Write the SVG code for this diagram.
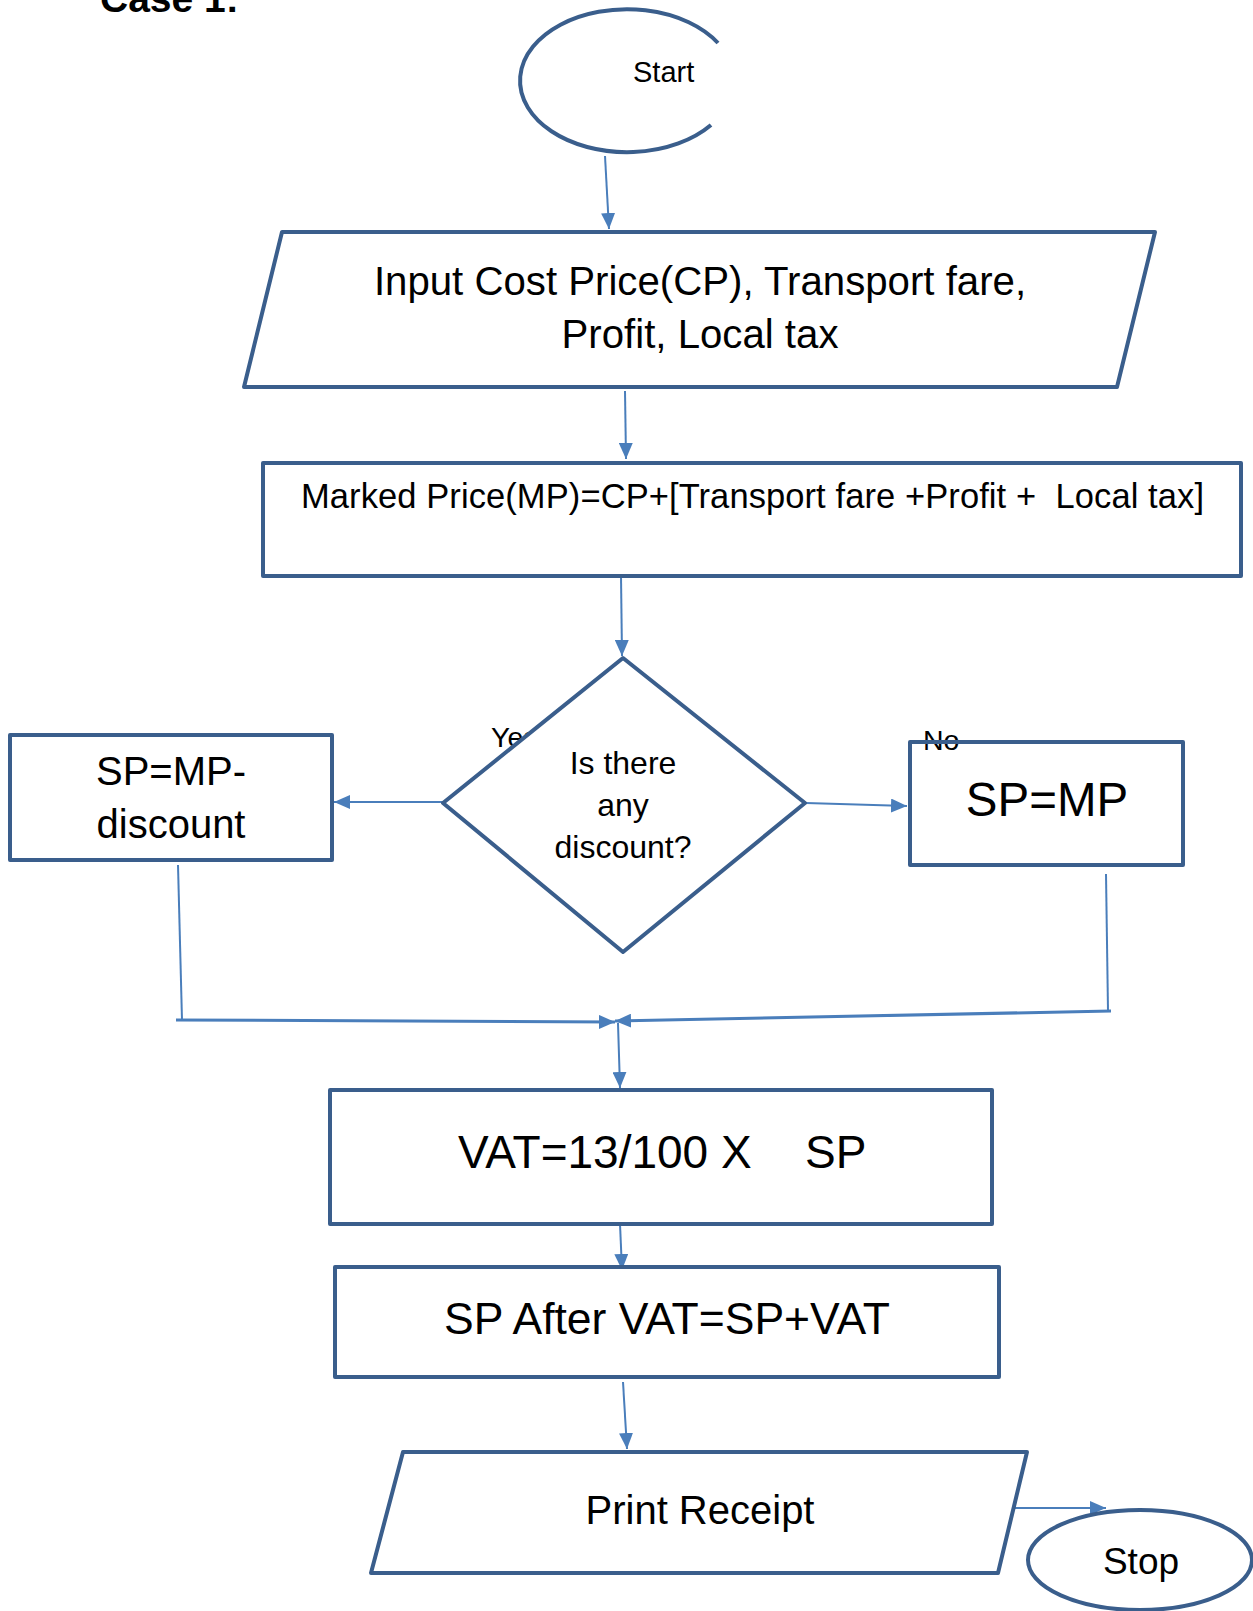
<svg xmlns="http://www.w3.org/2000/svg" width="1253" height="1611" viewBox="0 0 1253 1611">
  <style>
    .shape { fill: #ffffff; stroke: #3A5E8C; stroke-width: 4; stroke-linejoin: round; }
    .open { fill: none; stroke: #3A5E8C; stroke-width: 4; stroke-linejoin: round; }
    .conn { fill: none; stroke: #4A7EBB; stroke-width: 2; }
    .thick { stroke-width: 3; }
    text { font-family: "Liberation Sans", Arial, sans-serif; fill: #000000; }
    .mid { text-anchor: middle; }
  </style>
  <defs>
    <marker id="arrow" markerUnits="userSpaceOnUse" markerWidth="16" markerHeight="14" refX="16" refY="7" orient="auto">
      <path d="M0,0 L16,7 L0,14 Z" fill="#4A7EBB"/>
    </marker>
  </defs>

  <rect width="1253" height="1611" fill="#ffffff"/>

  <!-- heading, partly above the top edge -->
  <text x="100" y="12" font-size="39" font-weight="bold">Case 1:</text>

  <!-- connectors and branch labels -->
  <g id="connectors">
    <line class="conn" x1="605" y1="156" x2="609" y2="229" marker-end="url(#arrow)"/>
    <line class="conn" x1="625" y1="391" x2="626" y2="459" marker-end="url(#arrow)"/>
    <line class="conn" x1="621" y1="576" x2="622" y2="656" marker-end="url(#arrow)"/>
    <line class="conn" x1="444" y1="802" x2="334" y2="802" marker-end="url(#arrow)"/>
    <line class="conn" x1="806" y1="803" x2="907" y2="806" marker-end="url(#arrow)"/>
    <line class="conn" x1="178" y1="865" x2="182" y2="1020"/>
    <line class="conn thick" x1="176" y1="1020" x2="615" y2="1022" marker-end="url(#arrow)"/>
    <line class="conn" x1="1106" y1="874" x2="1108" y2="1011"/>
    <line class="conn thick" x1="1111" y1="1011" x2="615" y2="1021" marker-end="url(#arrow)"/>
    <line class="conn" x1="618" y1="1023" x2="620" y2="1088" marker-end="url(#arrow)"/>
    <line class="conn" x1="620" y1="1224" x2="622" y2="1270" marker-end="url(#arrow)"/>
    <line class="conn" x1="623" y1="1382" x2="627" y2="1449" marker-end="url(#arrow)"/>
    <line class="conn" x1="1015" y1="1508" x2="1106" y2="1508" marker-end="url(#arrow)"/>
    <text x="491" y="747" font-size="28.5">Yes</text>
    <text x="923" y="750" font-size="28.5">No</text>
  </g>

  <g id="start">
    <path class="open" d="M718,43 A107,71.5 0 1 0 711,125"/>
    <text x="633" y="82" font-size="29">Start</text>
  </g>

  <g id="input">
    <polygon class="shape" points="282,232 1155,232 1117,387 244,387"/>
    <text class="mid" x="700" y="295" font-size="40.2">Input Cost Price(CP), Transport fare,</text>
    <text class="mid" x="700" y="348" font-size="40.2">Profit, Local tax</text>
  </g>

  <g id="marked-price">
    <rect class="shape" x="263" y="463" width="978" height="113"/>
    <text x="301" y="508" font-size="34.5" textLength="903" lengthAdjust="spacing" xml:space="preserve">Marked Price(MP)=CP+[Transport fare +Profit +  Local tax]</text>
  </g>

  <g id="decision">
    <polygon class="shape" points="623,658 805,803 623,952 443,803"/>
    <text class="mid" x="623" y="774" font-size="32">Is there</text>
    <text class="mid" x="623" y="816" font-size="32">any</text>
    <text class="mid" x="623" y="858" font-size="32">discount?</text>
  </g>

  <g id="sp-discount">
    <rect class="shape" x="10" y="735" width="322" height="125"/>
    <text class="mid" x="171" y="785" font-size="40">SP=MP-</text>
    <text class="mid" x="171" y="838" font-size="40">discount</text>
  </g>

  <g id="sp-mp">
    <rect class="open" x="910" y="742" width="273" height="123"/>
    <text class="mid" x="1047" y="816" font-size="47.5">SP=MP</text>
  </g>

  <g id="vat">
    <rect class="shape" x="330" y="1090" width="662" height="134"/>
    <text x="458" y="1168" font-size="46">VAT=13/100 X<tspan x="805">SP</tspan></text>
  </g>

  <g id="sp-after-vat">
    <rect class="shape" x="335" y="1267" width="664" height="110"/>
    <text class="mid" x="667" y="1334" font-size="44.5">SP After VAT=SP+VAT</text>
  </g>

  <g id="print">
    <polygon class="shape" points="403,1452 1027,1452 998,1573 371,1573"/>
    <text class="mid" x="700" y="1524" font-size="40">Print Receipt</text>
  </g>

  <g id="stop">
    <ellipse class="shape" cx="1140" cy="1560" rx="112" ry="50"/>
    <text class="mid" x="1141" y="1574" font-size="37">Stop</text>
  </g>
</svg>
